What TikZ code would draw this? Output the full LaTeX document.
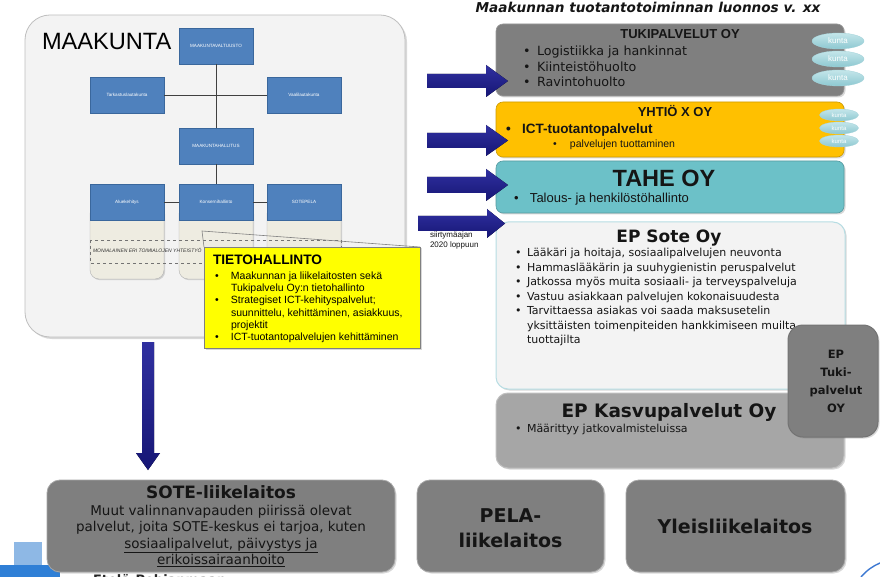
\documentclass[tikz,border=0pt]{standalone}
\usepackage{fontspec}
\setmainfont{Liberation Sans}
\newfontfamily\dvs{DejaVu Sans}
\usetikzlibrary{shapes.geometric,shadows}
\newcommand\fsz[2]{\fontsize{#1}{#2}\selectfont}
\definecolor{orgblue}{HTML}{4F81BD}
\definecolor{orgborder}{HTML}{3A679C}
\definecolor{beigeC}{HTML}{EEECE1}
\definecolor{navyL}{HTML}{3030A0}
\definecolor{navyD}{HTML}{161675}
\definecolor{tgray}{HTML}{7F7F7F}
\definecolor{kgray}{HTML}{A6A6A6}
\definecolor{ygold}{HTML}{FFC000}
\definecolor{tealC}{HTML}{6CC1C8}
\definecolor{kuntaL}{HTML}{C4E6EA}
\definecolor{kuntaD}{HTML}{8DC8D1}
\definecolor{txt}{HTML}{151515}
\definecolor{bgbox}{HTML}{F3F3F3}
\definecolor{linegray}{HTML}{404040}
\begin{document}
\begin{tikzpicture}[x=1pt,y=-1pt,
  every node/.style={inner sep=0pt, outer sep=0pt},
  bigbox/.style={rounded corners=25pt, fill=bgbox, draw=black!25, line width=0.8pt,
    drop shadow={opacity=0.3, shadow xshift=2pt, shadow yshift=-2pt}, anchor=north west},
  orgbox/.style={draw=orgborder, fill=orgblue, line width=0.6pt, minimum width=74pt,
    minimum height=36pt, text=white, font=\fsz{4.6}{6},
    drop shadow={opacity=0.35, shadow xshift=1.2pt, shadow yshift=-1.2pt}},
  ext/.style={fill=beigeC, draw=black!30, line width=0.4pt, rounded corners=9pt,
    drop shadow={opacity=0.3, shadow xshift=1.2pt, shadow yshift=-1.2pt}},
  conn/.style={draw=linegray, line width=0.8pt},
  rbox/.style={rounded corners=7pt, anchor=north west, line width=0.6pt,
    drop shadow={opacity=0.3, shadow xshift=1.5pt, shadow yshift=-1.5pt}},
  bbox/.style={rounded corners=13pt, anchor=north west, line width=0.8pt, fill=tgray, draw=black!35,
    drop shadow={opacity=0.3, shadow xshift=1.5pt, shadow yshift=-1.5pt}},
  kuntaell/.style={ellipse, top color=kuntaL, bottom color=kuntaD, draw=kuntaD!80!white,
    line width=0.3pt, text=white},
  blockarrow/.style={top color=navyL, bottom color=navyD, draw=none},
  lst/.style={anchor=base west, text=txt},
]
\useasboundingbox (0,0) rectangle (880,577);
\fill[white] (0,0) rectangle (880,577);

% ---- logo fragment bottom-left
\fill[fill={rgb,255:red,142;green,184;blue,229}] (14,542) rectangle (42,566);
\fill[fill={rgb,255:red,47;green,127;blue,214}] (0,565) rectangle (60,577);
\node[anchor=base west, font=\dvs\bfseries\fsz{13}{15}, text=black!85] (logo) at (93,584) {Etelä-Pohjanmaan};

% ---- bottom-right arc
\draw[draw={rgb,255:red,60;green,120;blue,210}, line width=1.4pt] (861,577) .. controls (867,570) and (873,566) .. (880,563);

% ---- MAAKUNTA
\node[bigbox, minimum width=380pt, minimum height=322pt] (mk) at (25,15) {};
\node[anchor=base west, font=\fsz{23.6}{26}] (mkT) at (42,50) {MAAKUNTA};

\path[ext] (90,205) rectangle (164,279);
\path[ext] (179,205) rectangle (253,279);
\path[ext] (267,205) rectangle (341,279);
\draw[dashed, draw=black!55, line width=0.5pt] (90,240) rectangle (341,263);
\node[anchor=base west, font=\itshape\fsz{5}{6}, text=black!80] (moni) at (93,253) {MONIALAINEN ERI TOIMIALOJEN YHTEISTYÖ};

\node[orgbox] (mv) at (216,46) {MAAKUNTAVALTUUSTO};
\node[orgbox] (tark) at (127,95) {Tarkastuslautakunta};
\node[orgbox] (vaali) at (304,95) {Vaalilautakunta};
\node[orgbox] (mh) at (216,146) {MAAKUNTAHALLITUS};
\node[orgbox] (alue) at (127,202) {Aluekehitys};
\node[orgbox] (kons) at (216,202) {Konsernihallinto};
\node[orgbox] (sp) at (304,202) {SOTEPELA};
\draw[conn] (mv.south) -- (mh.north);
\draw[conn] (tark.east) -- (vaali.west);
\draw[conn] (mh.south) -- (kons.north);
\draw[conn] (alue.east) -- (kons.west);
\draw[conn] (kons.east) -- (sp.west);

% ---- callout
\node[anchor=north west, fill={rgb,255:red,255;green,255;blue,0}, draw=black!50, line width=0.6pt,
  minimum width=216pt, minimum height=101pt,
  drop shadow={opacity=0.3, shadow xshift=1.5pt, shadow yshift=-1.5pt}] (callout) at (204,247) {};
\coordinate (ctip) at (202,231);
\draw[draw=black!50, line width=0.6pt] (callout.north west) -- (ctip) -- (callout.north east);
\node[anchor=base west, font=\bfseries\fsz{13.7}{15}] (cT) at (213,265) {TIETOHALLINTO};
\node[lst, text=black, font=\fsz{10.5}{12.4}] (cL) at (215,279) {\begin{tabular}[t]{@{}p{16pt}@{}l@{}}
\textbullet & Maakunnan ja liikelaitosten sekä\\
 & Tukipalvelu Oy:n tietohallinto\\
\textbullet & Strategiset ICT-kehityspalvelut;\\
 & suunnittelu, kehittäminen, asiakkuus,\\
 & projektit\\
\textbullet & ICT-tuotantopalvelujen kehittäminen\end{tabular}};

% ---- title
\node[anchor=base, font=\dvs\bfseries\itshape\fsz{13.6}{15}, text=txt] (title) at (648,13) {Maakunnan tuotantotoiminnan luonnos v. xx};

% ---- TUKIPALVELUT OY
\node[rbox, fill=tgray, draw=black!40, minimum width=348pt, minimum height=72pt] (tuki) at (496,24) {};
\node[anchor=base, font=\bfseries\fsz{13}{15}, text=txt] (tukiT) at (680,39) {TUKIPALVELUT OY};
\node[lst, font=\dvs\fsz{12.7}{15.5}] (tukiL) at (523,56) {\begin{tabular}[t]{@{}p{14pt}@{}l@{}}
\textbullet & Logistiikka ja hankinnat\\
\textbullet & Kiinteistöhuolto\\
\textbullet & Ravintohuolto\end{tabular}};
\node[kuntaell, minimum width=52pt, minimum height=16pt, font=\fsz{8}{9}] (k1) at (838,41) {kunta};
\node[kuntaell, minimum width=52pt, minimum height=16pt, font=\fsz{8}{9}] (k2) at (838,59) {kunta};
\node[kuntaell, minimum width=52pt, minimum height=16pt, font=\fsz{8}{9}] (k3) at (838,78) {kunta};

% ---- YHTIÖ X OY
\node[rbox, fill=ygold, draw=ygold!80!black, minimum width=348pt, minimum height=55pt] (yht) at (496,102) {};
\node[anchor=base, font=\bfseries\fsz{13}{15}, text=txt] (yhtT) at (675,117) {YHTIÖ X OY};
\node[lst, font=\bfseries\fsz{13.5}{15}] (yhtL) at (506,134) {\begin{tabular}[t]{@{}p{16pt}@{}l@{}}\textbullet & ICT-tuotantopalvelut\end{tabular}};
\node[lst, font=\fsz{10.5}{12}] (yhtS) at (553,148) {\begin{tabular}[t]{@{}p{17pt}@{}l@{}}\textbullet & palvelujen tuottaminen\end{tabular}};
\node[kuntaell, minimum width=39pt, minimum height=12pt, font=\fsz{6}{7}] (k4) at (839,115) {kunta};
\node[kuntaell, minimum width=39pt, minimum height=12pt, font=\fsz{6}{7}] (k5) at (839,128) {kunta};
\node[kuntaell, minimum width=39pt, minimum height=12pt, font=\fsz{6}{7}] (k6) at (839,141) {kunta};

% ---- TAHE OY
\node[rbox, fill=tealC, draw=tealC!80!black, minimum width=348pt, minimum height=52pt] (tahe) at (496,161) {};
\node[anchor=base, font=\bfseries\fsz{23.5}{26}, text=txt] (taheT) at (664,187) {TAHE OY};
\node[lst, font=\fsz{13}{15}] (taheL) at (514,203) {\begin{tabular}[t]{@{}p{16pt}@{}l@{}}\textbullet & Talous- ja henkilöstöhallinto\end{tabular}};

% ---- EP Sote Oy
\node[rbox, rounded corners=12pt, fill=bgbox, draw={rgb,255:red,183;green,221;blue,227}, line width=1pt, minimum width=349pt, minimum height=167pt] (sote) at (496,222) {};
\node[anchor=base, font=\dvs\bfseries\fsz{17}{19}, text=txt] (soteT) at (669,243) {EP Sote Oy};
\node[lst, font=\dvs\fsz{11}{14.4}] (soteL) at (515,257) {\begin{tabular}[t]{@{}p{12pt}@{}l@{}}
\textbullet & Lääkäri ja hoitaja, sosiaalipalvelujen neuvonta\\
\textbullet & Hammaslääkärin ja suuhygienistin peruspalvelut\\
\textbullet & Jatkossa myös muita sosiaali- ja terveyspalveluja\\
\textbullet & Vastuu asiakkaan palvelujen kokonaisuudesta\\
\textbullet & Tarvittaessa asiakas voi saada maksusetelin\\
 & yksittäisten toimenpiteiden hankkimiseen muilta\\
 & tuottajilta\end{tabular}};

% ---- EP Kasvupalvelut Oy
\node[rbox, rounded corners=12pt, fill=kgray, draw=black!25, line width=1pt, minimum width=348pt, minimum height=75pt] (kasvu) at (496,393) {};
\node[anchor=base, font=\dvs\bfseries\fsz{18.5}{21}, text=txt] (kasvuT) at (669,417) {EP Kasvupalvelut Oy};
\node[lst, font=\dvs\fsz{11}{14}] (kasvuL) at (515,432) {\begin{tabular}[t]{@{}p{12pt}@{}l@{}}\textbullet & Määrittyy jatkovalmisteluissa\end{tabular}};

% ---- EP Tukipalvelut OY
\node[rbox, rounded corners=15pt, fill=tgray, draw=black!55, line width=1pt, minimum width=90pt, minimum height=112pt] (eptuki) at (788,325) {};
\node[anchor=base, font=\dvs\bfseries\fsz{11.5}{18}, text=txt] (eptukiT) at (836,358) {\begin{tabular}[t]{@{}c@{}}EP\\ Tuki-\\ palvelut\\ OY\end{tabular}};

% ---- arrows
\fill[blockarrow] (427,74) -- (486,74) -- (486,65) -- (508,81) -- (486,97) -- (486,88) -- (427,88) -- cycle;
\fill[blockarrow] (427,133) -- (486,133) -- (486,125) -- (508,140.5) -- (486,156) -- (486,148) -- (427,148) -- cycle;
\fill[blockarrow] (427,177) -- (486,177) -- (486,169) -- (508,185) -- (486,201) -- (486,193) -- (427,193) -- cycle;
\fill[blockarrow] (418,216) -- (487,216) -- (487,209) -- (505,223.5) -- (487,238) -- (487,231) -- (418,231) -- cycle;
\node[anchor=base west, font=\fsz{8}{10}, text=txt] (siirt) at (430,237) {\begin{tabular}[t]{@{}l@{}}siirtymäajan\\ 2020 loppuun\end{tabular}};
\fill[blockarrow] (142,342) -- (154,342) -- (154,453) -- (160,453) -- (148,470) -- (136,453) -- (142,453) -- cycle;

% ---- bottom boxes
\node[bbox, minimum width=348pt, minimum height=92pt] (soteLL) at (47,480) {};
\node[anchor=base, font=\dvs\bfseries\fsz{17}{19}, text=txt] (soteLLT) at (221,498) {SOTE-liikelaitos};
\node[anchor=base, font=\dvs\fsz{13.5}{16.5}, text=txt] (soteLLB) at (221,515) {\begin{tabular}[t]{@{}c@{}}Muut valinnanvapauden piirissä olevat\\ palvelut, joita SOTE-keskus ei tarjoa, kuten\\ \underline{sosiaalipalvelut, päivystys ja}\\ \underline{erikoissairaanhoito}\end{tabular}};
\node[bbox, minimum width=187pt, minimum height=92pt] (pela) at (417,480) {};
\node[anchor=base, font=\dvs\bfseries\fsz{19}{25}, text=txt] (pelaT) at (510.5,522) {\begin{tabular}[t]{@{}c@{}}PELA-\\ liikelaitos\end{tabular}};
\node[bbox, minimum width=219pt, minimum height=92pt] (yleis) at (626,480) {};
\node[anchor=base, font=\dvs\bfseries\fsz{19}{22}, text=txt] (yleisT) at (735,533) {Yleisliikelaitos};
\end{tikzpicture}
\end{document}
